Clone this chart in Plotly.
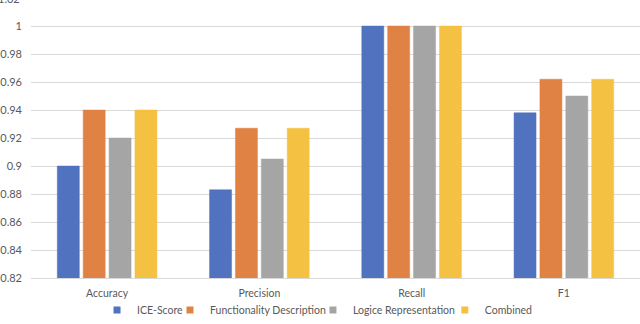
import plotly.graph_objects as go

metrics = ["Accuracy", "Precision", "Recall", "F1"]

ice_score = [0.900, 0.883, 1.0, 0.938]
func_desc = [0.940, 0.927, 1.0, 0.962]
logic_repr = [0.920, 0.905, 1.0, 0.950]
combined = [0.940, 0.927, 1.0, 0.962]

series = [
    ("ICE-Score", ice_score, "#5072BF"),
    ("Functionality Description", func_desc, "#DF8244"),
    ("Logice Representation", logic_repr, "#A5A5A5"),
    ("Combined", combined, "#F4C142"),
]

y_min, y_max = 0.82, 1.0186
top_tick = 1.02  # clipped at the very top edge in the original

grey = "#595959"
# one legend per series so each entry can sit where the original has it
legend_x = [0.1516, 0.2656, 0.489, 0.695]
legend_names = ["legend", "legend2", "legend3", "legend4"]

fig = go.Figure()
for (name, vals, col), lg in zip(series, legend_names):
    fig.add_trace(go.Bar(x=metrics, y=vals, name=name, showlegend=False,
                         marker=dict(color=col, line=dict(color=col, width=0.5))))
    # small square swatch for the legend, like the original
    fig.add_trace(go.Scatter(x=[None], y=[None], mode="markers", name=name, legend=lg,
                             marker=dict(symbol="square", size=7, color=col)))

legends = {}
for lg, lx in zip(legend_names, legend_x):
    legends[lg] = dict(orientation="h", xref="container", yref="container",
                       x=lx, xanchor="left", y=0.043, yanchor="middle",
                       font=dict(size=10.5, color=grey), itemwidth=30,
                       bgcolor="rgba(0,0,0,0)")

fig.update_layout(
    width=640, height=324,
    margin=dict(l=31, r=0, t=0, b=46, autoexpand=False),
    paper_bgcolor="white", plot_bgcolor="white",
    font=dict(family="Lato", size=10.5, color=grey),
    barmode="group", bargap=0.32, bargroupgap=0.15,
    showlegend=True,
    xaxis=dict(showline=True, linecolor="#D9D9D9", linewidth=1, ticks="",
               automargin=False, ticklabelstandoff=5,
               tickfont=dict(size=10.5, color=grey)),
    yaxis=dict(range=[y_min, y_max], dtick=0.02, tick0=0.82,
               showgrid=True, gridcolor="#D9D9D9", gridwidth=1,
               zeroline=False, ticks="", tickformat="~g",
               automargin=False, ticklabelstandoff=8,
               tickfont=dict(size=11, color=grey)),
    annotations=[dict(text=f"{top_tick:g}", xref="paper", x=0, xanchor="right", xshift=-9,
                      yref="paper", y=(top_tick - y_min) / (y_max - y_min), yanchor="middle",
                      showarrow=False, font=dict(size=11, color=grey))],
    **legends,
)

# drop the browser's default 8px body margin so the figure sits at 0,0
fig.write_html("out.html", config={"displayModeBar": False},
               post_script="document.body.style.margin='0';")
